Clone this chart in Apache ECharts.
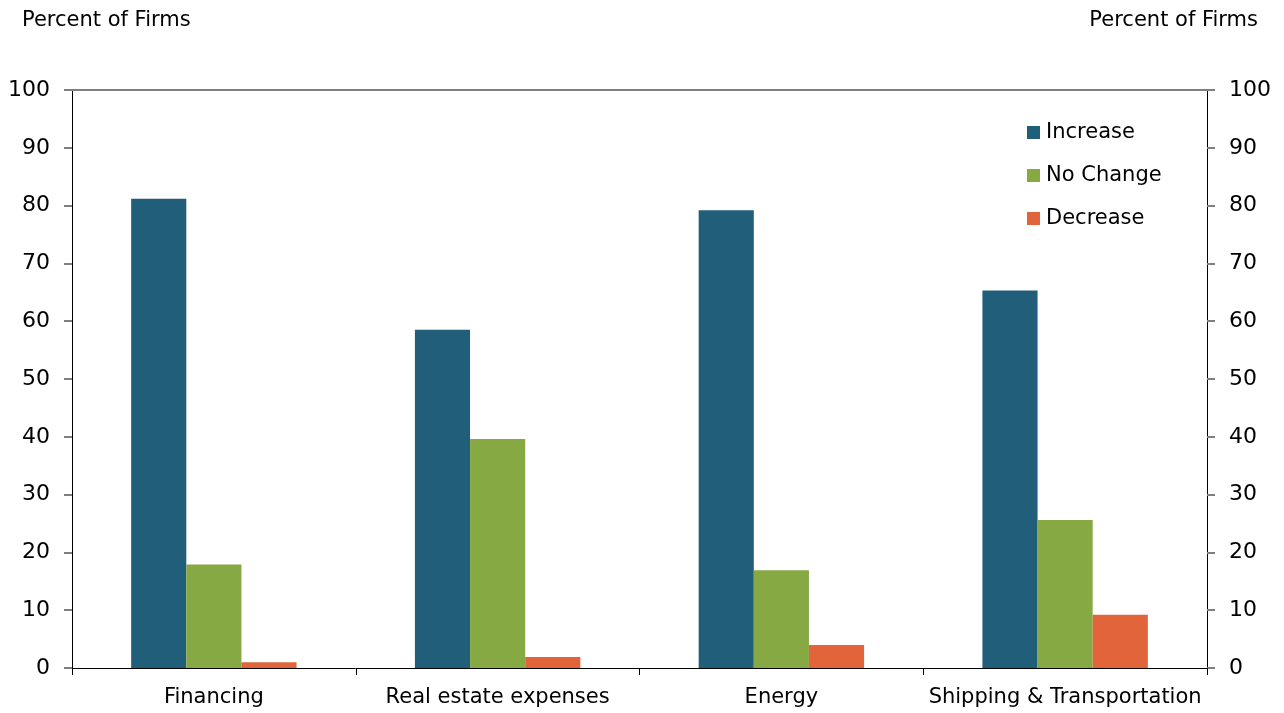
<!DOCTYPE html>
<html><head><meta charset="utf-8">
<script src="https://cdn.jsdelivr.net/npm/echarts@6/dist/echarts.min.js"></script>
<style>html,body{margin:0;padding:0;background:#fff}#c{width:1284px;height:713px}</style>
</head><body><div id="c"></div>
<script>
const categories = ['Financing', 'Real estate expenses', 'Energy', 'Shipping & Transportation'];
const increase = [81.2, 58.5, 79.2, 65.3];
const noChange = [17.9, 39.6, 16.9, 25.6];
const decrease = [1.0, 1.9, 4.0, 9.2];
const yTicks = [0, 10, 20, 30, 40, 50, 60, 70, 80, 90, 100];

const font = 'DejaVu Sans';
const chart = echarts.init(document.getElementById('c'));
const yCommon = {
  type: 'value', min: yTicks[0], max: yTicks[yTicks.length - 1], interval: 10,
  axisLine: { show: true, lineStyle: { color: '#000', width: 1 } },
  axisTick: { show: true, length: 8, lineStyle: { color: '#7f7f7f', width: 2 } },
  axisLabel: { color: '#000', fontSize: 22, fontFamily: font, margin: 22 },
  splitLine: { show: false }
};
chart.setOption({
  animation: false,
  textStyle: { fontFamily: font },
  grid: { left: 72, right: 77, top: 90, bottom: 45, containLabel: false },
  title: [
    { text: 'Percent of Firms', left: 22, top: 10, padding: 0, textStyle: { fontSize: 21, fontWeight: 'normal', color: '#000', fontFamily: font } },
    { text: 'Percent of Firms', right: 26, top: 10, padding: 0, textStyle: { fontSize: 21, fontWeight: 'normal', color: '#000', fontFamily: font } }
  ],
  legend: {
    orient: 'vertical', left: 1022, top: 117, itemGap: 22, itemWidth: 13, itemHeight: 13,
    icon: 'rect',
    textStyle: { fontSize: 21, color: '#000', fontFamily: font, padding: [0, 0, 0, 1] },
    data: ['Increase', 'No Change', 'Decrease']
  },
  xAxis: [
    {
      type: 'category', data: categories, position: 'bottom',
      axisLine: { lineStyle: { color: '#000', width: 1 } },
      axisTick: { show: true, length: 7, alignWithLabel: false, lineStyle: { color: '#000' } },
      axisLabel: { color: '#000', fontSize: 21, fontFamily: font, margin: 19, interval: 0 }
    }
  ],
  yAxis: [
    Object.assign({}, yCommon, { position: 'left' }),
    Object.assign({}, yCommon, { position: 'right' })
  ],
  series: [
    {
      name: 'Increase', type: 'bar', data: increase, itemStyle: { color: '#215e7a' }, barGap: '0%', barCategoryGap: '41.7%',
      markLine: {
        silent: true, symbol: 'none', label: { show: false },
        lineStyle: { color: '#7f7f7f', width: 2, type: 'solid' },
        data: [{ yAxis: yTicks[yTicks.length - 1] }]
      }
    },
    { name: 'No Change', type: 'bar', data: noChange, itemStyle: { color: '#87a944' } },
    { name: 'Decrease', type: 'bar', data: decrease, itemStyle: { color: '#e2643b' } }
  ]
});
</script></body></html>
